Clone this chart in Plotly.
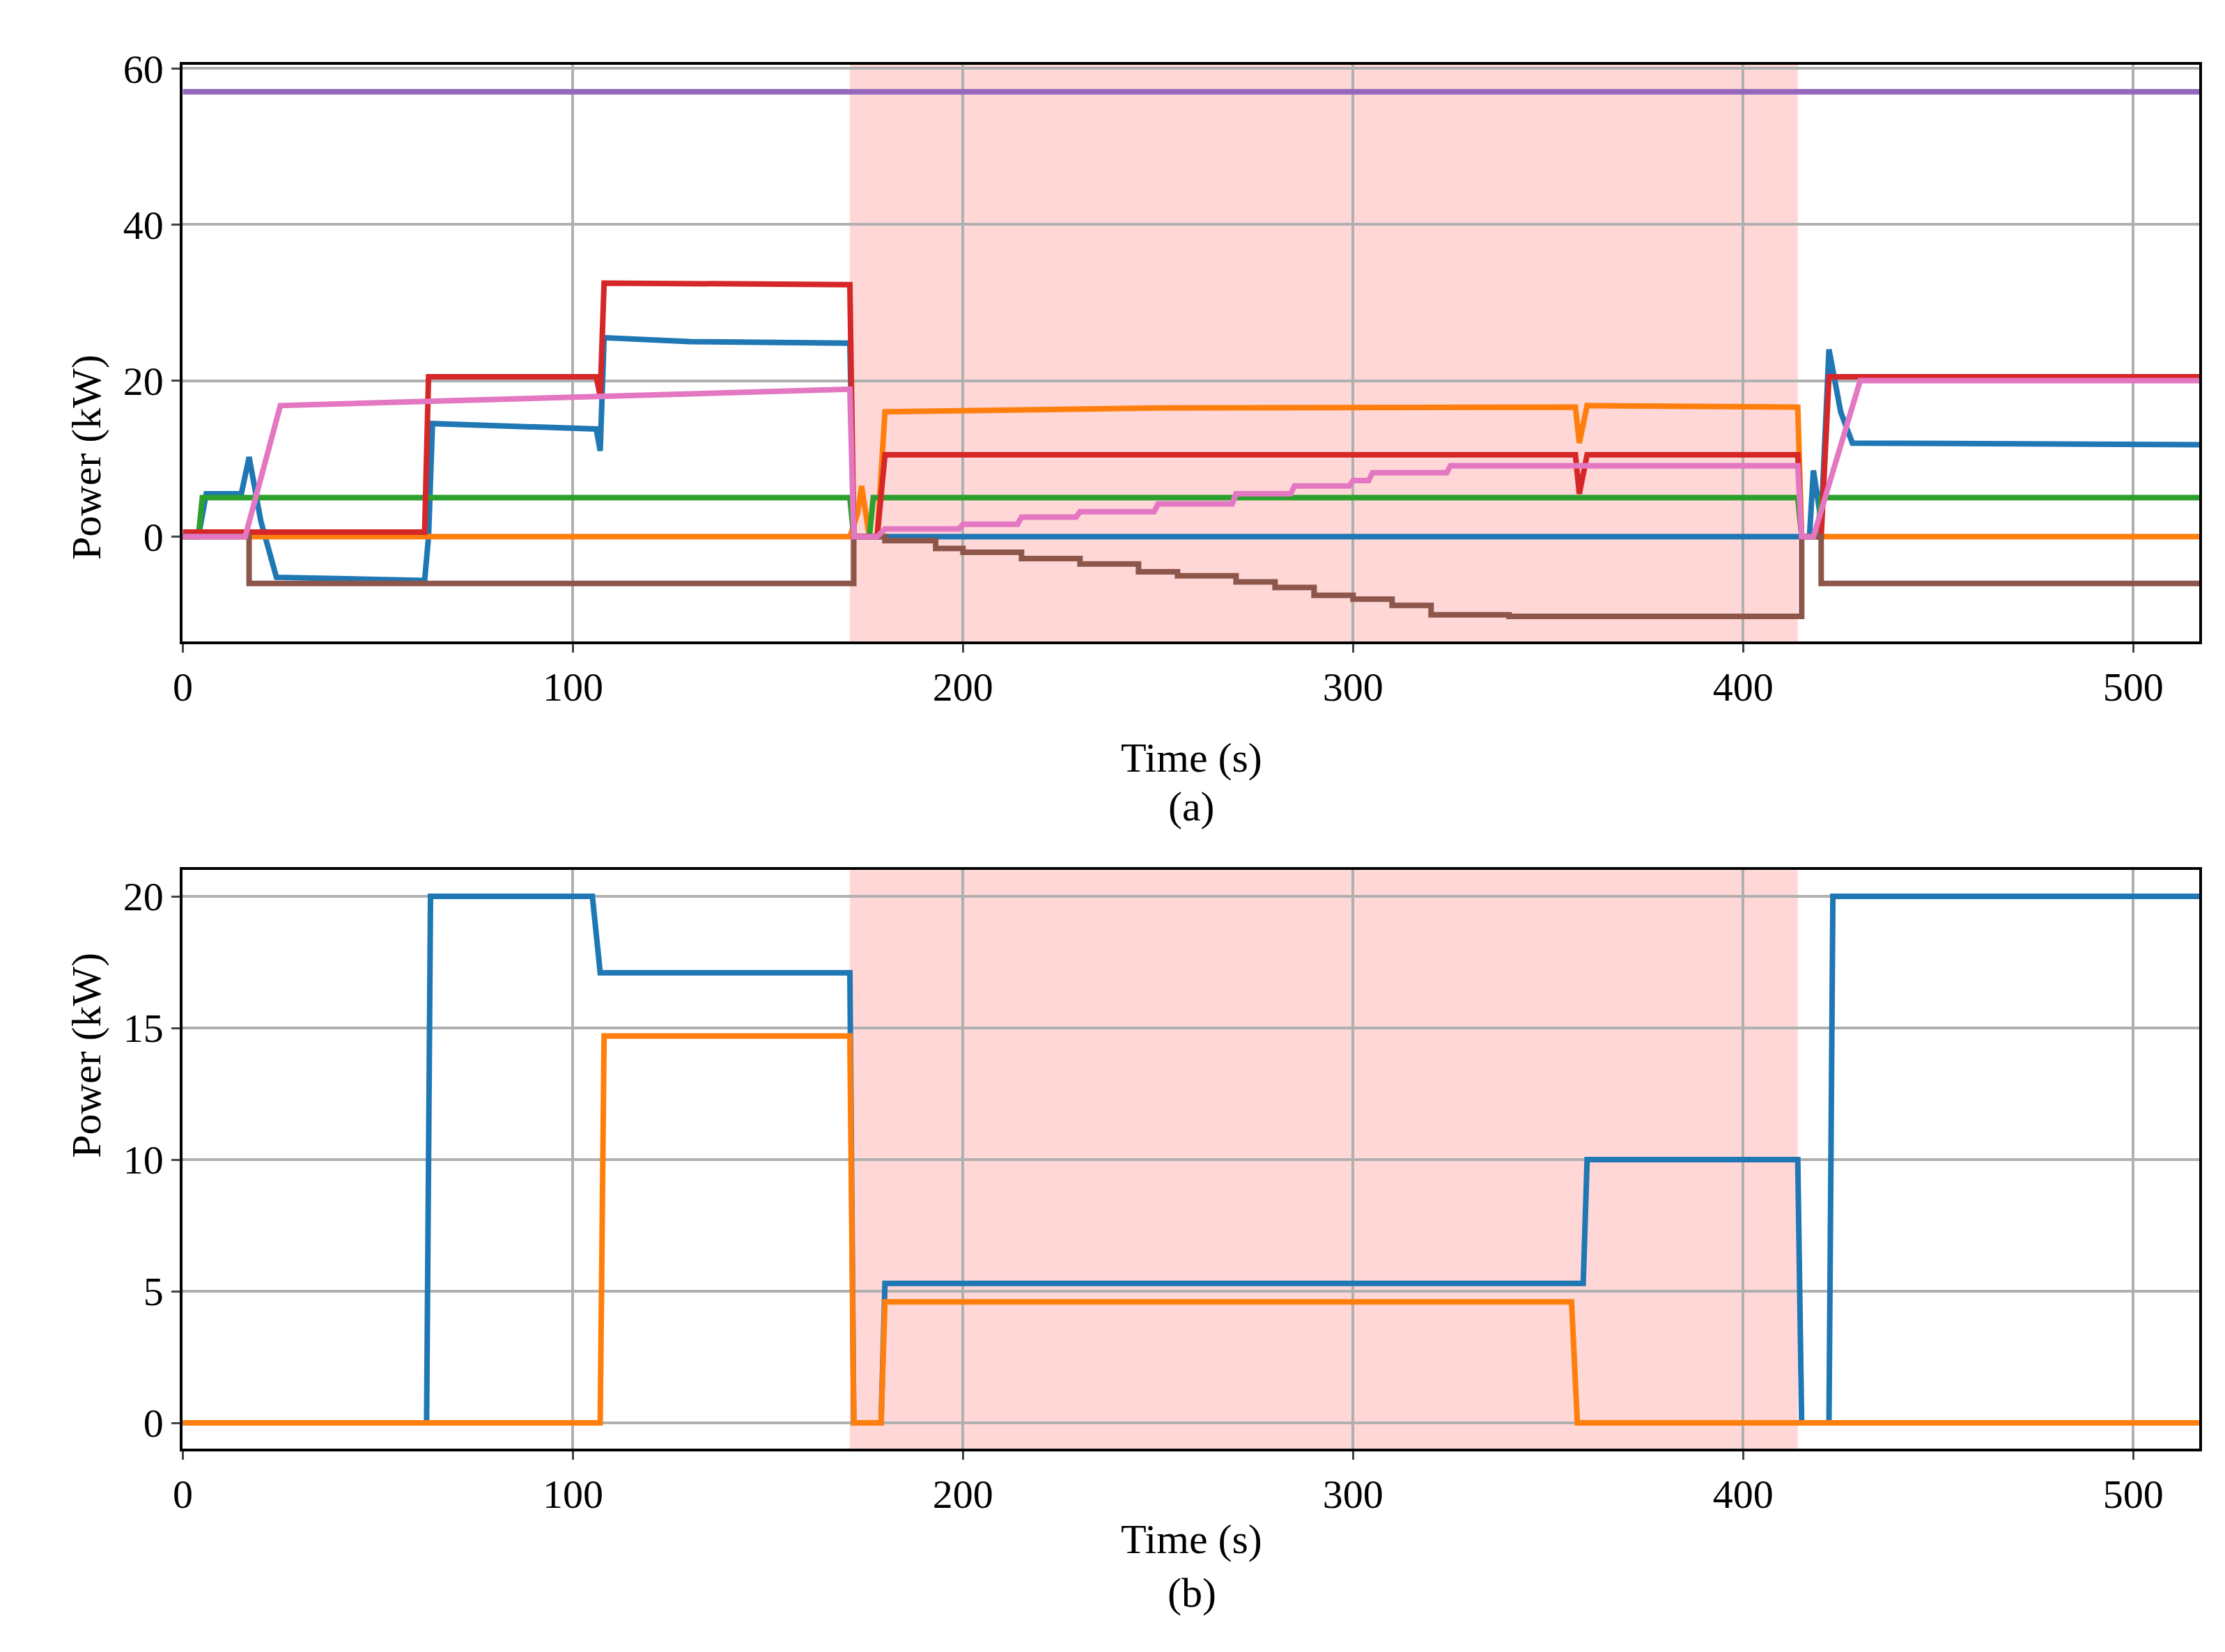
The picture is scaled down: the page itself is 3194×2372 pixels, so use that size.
import plotly.graph_objects as go
from plotly.subplots import make_subplots

# ---- panel (a) ----
blue_t = [0, 4, 6, 15, 17, 20, 24, 62, 63, 64, 106, 107, 108, 130, 171, 172, 414, 417, 418, 420, 422, 425, 428, 517]
blue_p = [0, 0, 5.5, 5.5, 10.2, 2, -5.2, -5.6, 0, 14.5, 13.8, 11, 25.5, 25.0, 24.8, 0, 0, 0, 8.5, 2, 24, 16, 12, 11.8]

orange_t = [0, 171, 173, 174, 176, 178, 180, 250, 357, 358, 360, 414, 415, 517]
orange_p = [0, 0, 3, 6.5, 0, 0, 16.0, 16.5, 16.6, 12, 16.8, 16.6, 0, 0]

green_t = [0, 4, 5, 171, 172, 176, 177, 414, 415, 419, 420, 517]
green_p = [0, 0, 5, 5, 0, 0, 5, 5, 0, 0, 5, 5]

red_t = [0, 62, 63, 106, 107, 108, 171, 172, 178, 180, 357, 358, 360, 414, 415, 420, 422, 517]
red_p = [0.6, 0.6, 20.5, 20.5, 18, 32.5, 32.3, 0, 0, 10.5, 10.5, 5.5, 10.5, 10.5, 0, 0, 20.5, 20.5]

purple_t = [0, 517]
purple_p = [57, 57]

brown_t = [0, 17, 172, 180, 193, 200, 215, 230, 245, 255, 270, 280, 290, 300, 310, 320, 340, 415, 420, 517]
brown_p = [0, -6, 0, -0.5, -1.5, -2, -2.8, -3.5, -4.5, -5, -5.8, -6.5, -7.5, -8, -8.8, -10, -10.2, 0, -6, -6]

pink_t = [0, 16, 25, 171, 172, 178, 180, 199, 200, 214, 215, 229, 230, 249, 250, 269, 270, 284, 285, 299, 300, 304, 305, 324, 325, 414, 415, 418, 430, 517]
pink_p = [0, 0, 16.8, 18.9, 0, 0, 1, 1, 1.6, 1.6, 2.5, 2.5, 3.2, 3.2, 4.2, 4.2, 5.5, 5.5, 6.5, 6.5, 7.2, 7.2, 8.2, 8.2, 9.1, 9.1, 0, 0, 20, 20]

# ---- panel (b) ----
b_blue_t = [0, 62.5, 63.5, 105, 107, 171, 172, 179, 180, 359, 360, 414, 415, 422, 423, 517]
b_blue_p = [0, 0, 20, 20, 17.1, 17.1, 0, 0, 5.3, 5.3, 10, 10, 0, 0, 20, 20]
b_orange_t = [0, 107, 108, 171, 172, 179, 180, 356, 357.5, 517]
b_orange_p = [0, 0, 14.7, 14.7, 0, 0, 4.6, 4.6, 0, 0]

colors = ["#1f77b4", "#ff7f0e", "#2ca02c", "#d62728", "#9467bd", "#8c564b", "#e377c2"]
shade = (171, 414)

fig = make_subplots(rows=2, cols=1)
top = [(blue_t, blue_p), (orange_t, orange_p), (green_t, green_p), (red_t, red_p),
       (purple_t, purple_p), (brown_t, brown_p), (pink_t, pink_p)]
for i, ((t, p), c) in enumerate(zip(top, colors)):
    shape = "hv" if i == 5 else "linear"
    fig.add_trace(go.Scatter(x=t, y=p, mode="lines", line=dict(color=c, width=8, shape=shape)), row=1, col=1)
for (t, p), c in zip([(b_blue_t, b_blue_p), (b_orange_t, b_orange_p)], colors):
    fig.add_trace(go.Scatter(x=t, y=p, mode="lines", line=dict(color=c, width=8)), row=2, col=1)

for r in (1, 2):
    fig.add_vrect(x0=shade[0], x1=shade[1], fillcolor="#ffd7d7", line_width=0, layer="below", row=r, col=1)

font = "Liberation Serif"
ax = dict(showline=True, linecolor="black", linewidth=4, mirror=True, ticks="outside",
          ticklen=12, tickwidth=3, showgrid=True, gridcolor="#b0b0b0", gridwidth=4,
          zeroline=False, tickfont=dict(size=58, family=font, color="black"))
fig.update_xaxes(ax, range=[0, 517], tickvals=[0, 100, 200, 300, 400, 500])
fig.update_xaxes(domain=[0.0756, 0.986], row=1, col=1)
fig.update_xaxes(domain=[0.0756, 0.986], row=2, col=1)
fig.update_yaxes(ax)
fig.update_yaxes(domain=[0.622, 0.975], range=[-13.4, 60.5], tickvals=[0, 20, 40, 60], row=1, col=1)
fig.update_yaxes(domain=[0.128, 0.482], range=[-0.97, 21.0], tickvals=[0, 5, 10, 15, 20], row=2, col=1)

ann = []
for txt, y in [("Time (s)", 1 - 1066 / 2372), ("(a)", 1 - 1136 / 2372),
               ("Time (s)", 1 - 2235 / 2372), ("(b)", 1 - 2313 / 2372)]:
    ann.append(dict(text=txt, x=0.531, y=y, xref="paper", yref="paper", showarrow=False,
                    font=dict(size=60, family=font, color="black")))
for y in (0.7985, 0.305):
    ann.append(dict(text="Power (kW)", x=0.021, y=y, xref="paper", yref="paper", showarrow=False,
                    textangle=-90, font=dict(size=60, family=font, color="black")))

fig.update_layout(width=3194, height=2372, margin=dict(l=0, r=0, t=0, b=0),
                  plot_bgcolor="white", paper_bgcolor="white", showlegend=False,
                  annotations=ann)
fig.write_html("out.html")
